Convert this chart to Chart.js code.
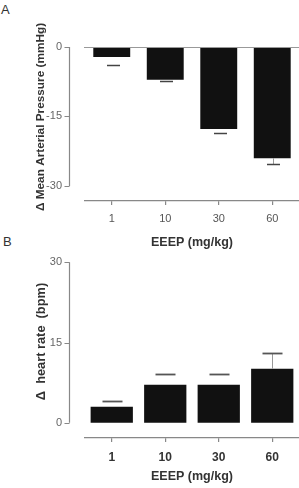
<!DOCTYPE html>
<html>
<head>
<meta charset="utf-8">
<script src="https://cdn.jsdelivr.net/npm/chart.js@4/dist/chart.umd.min.js"></script>
<style>
  html, body { margin: 0; padding: 0; background: #fff; }
  body { width: 299px; height: 488px; position: relative; overflow: hidden; font-family: "Liberation Sans", Arial, sans-serif; }
  .wrap { position: absolute; left: 0; width: 299px; }
  #wa { top: 0; height: 250px; }
  #wb { top: 232px; height: 256px; }
  .lbl { position: absolute; font-size: 13px; color: #333; line-height: 1; }
</style>
</head>
<body>
<div class="lbl" style="left:1px;top:3px;">A</div>
<div class="lbl" style="left:3px;top:235px;">B</div>
<div class="wrap" id="wa"><canvas id="ca" width="299" height="250"></canvas></div>
<div class="wrap" id="wb"><canvas id="cb" width="299" height="256"></canvas></div>
<script>
// ---- data ----
const categories = ['1', '10', '30', '60'];          // EEEP (mg/kg)
const mapMean = [-2.2, -7.1, -17.7, -24.0];          // Δ Mean Arterial Pressure (mmHg)
const mapSem  = [1.6, 0.35, 0.9, 1.2];
const hrMean  = [3.0, 7.1, 7.1, 10.1];               // Δ heart rate (bpm)
const hrSem   = [1.0, 2.0, 2.0, 3.0];
const mapTicks = [0, -15, -30];
const hrTicks  = [0, 15, 30];

const FONT = '"Liberation Sans", Arial, sans-serif';

const extras = {
  id: 'extras',
  afterDatasetsDraw(chart) {
    const o = chart.options.plugins.extras;
    const ctx = chart.ctx;
    const ys = chart.scales.y;
    const ca = chart.chartArea;
    ctx.save();
    if (o.zeroLine) {
      const y0 = Math.round(ys.getPixelForValue(0)) + 0.5;
      ctx.strokeStyle = '#999';
      ctx.lineWidth = 1.2;
      ctx.beginPath();
      ctx.moveTo(ca.left - 1, y0);
      ctx.lineTo(ca.right, y0);
      ctx.stroke();
    }
    const meta = chart.getDatasetMeta(0);
    const ds = chart.data.datasets[0];
    meta.data.forEach((bar, i) => {
      const v = ds.data[i];
      const e = o.errors[i];
      const sgn = v < 0 ? -1 : 1;
      const yb = ys.getPixelForValue(v);
      const ye = Math.round(ys.getPixelForValue(v + sgn * e)) + 0.5;
      const x = Math.round(bar.x + o.capShift) + 0.5;
      if (o.whisker[i]) {
        ctx.strokeStyle = o.whiskerColor;
        ctx.lineWidth = 1;
        ctx.beginPath();
        ctx.moveTo(x, yb);
        ctx.lineTo(x, ye);
        ctx.stroke();
      }
      ctx.strokeStyle = o.capColor;
      ctx.lineWidth = o.capWidth;
      ctx.beginPath();
      ctx.moveTo(x - o.capHalf, ye);
      ctx.lineTo(x + o.capHalf, ye);
      ctx.stroke();
    });
    const ax = ca.left - o.axisGap + 0.5;
    const tv = o.ticks;
    const yTop = ys.getPixelForValue(Math.max(...tv));
    const yBot = ys.getPixelForValue(Math.min(...tv));
    ctx.strokeStyle = '#888';
    ctx.lineWidth = 1.2;
    ctx.beginPath();
    ctx.moveTo(ax, yTop);
    ctx.lineTo(ax, yBot);
    tv.forEach(t => {
      const py = Math.round(ys.getPixelForValue(t)) + 0.5;
      ctx.moveTo(ax - 5, py);
      ctx.lineTo(ax, py);
    });
    ctx.stroke();
    ctx.restore();
  }
};

function makeChart(id, cfg) {
  return new Chart(document.getElementById(id), {
    type: 'bar',
    data: {
      labels: categories,
      datasets: [{
        data: cfg.values,
        backgroundColor: '#111',
        borderWidth: 0,
        barPercentage: cfg.barPct,
        categoryPercentage: 1.0
      }]
    },
    options: {
      responsive: false,
      maintainAspectRatio: false,
      animation: false,
      devicePixelRatio: 1,
      layout: { padding: { top: cfg.padTop, left: 0, right: 0, bottom: 0 } },
      plugins: {
        legend: { display: false },
        tooltip: { enabled: false },
        extras: {
          errors: cfg.errors, ticks: cfg.ticks, zeroLine: cfg.zeroLine,
          capHalf: cfg.capHalf, capShift: cfg.capShift, axisGap: 16,
          capColor: cfg.capColor, capWidth: cfg.capWidth,
          whiskerColor: '#999', whisker: [false, false, false, true]
        }
      },
      scales: {
        x: {
          offset: true,
          border: { display: true, color: '#888', width: 1.2 },
          grid: { display: true, offset: false, drawOnChartArea: false, drawTicks: true, tickLength: 4, color: '#888', lineWidth: 1.2 },
          ticks: { color: cfg.tickColor, font: { family: FONT, size: cfg.xTickSize, weight: cfg.xTickWeight }, padding: cfg.xTickPad, maxRotation: 0 },
          title: { display: true, text: 'EEEP (mg/kg)', color: '#333', font: { family: FONT, size: 12.5, weight: 'bold' }, padding: { top: 0, bottom: cfg.xTitlePad } },
          afterFit: s => { s.height = cfg.xHeight; }
        },
        y: {
          min: cfg.min,
          max: cfg.max,
          border: { display: false },
          grid: { display: false, drawTicks: true, tickLength: 23 },
          afterBuildTicks: s => { s.ticks = cfg.ticks.map(v => ({ value: v })); },
          ticks: { color: '#666', font: { family: FONT, size: 11 }, padding: 0 },
          title: { display: true, text: cfg.yTitle, color: '#333', font: { family: FONT, size: cfg.yTitleSize, weight: 'bold' }, padding: { top: cfg.yTitleOffset, bottom: 0 } },
          afterFit: s => { s.width = 85; }
        }
      }
    },
    plugins: [extras]
  });
}

makeChart('ca', {
  values: mapMean, errors: mapSem, ticks: mapTicks,
  min: -33.24, max: 3.0, padTop: 33, xHeight: 49,
  barPct: 0.69, capHalf: 6.5, capShift: 1, zeroLine: true,
  capColor: '#444', capWidth: 1.5,
  tickColor: '#555', xTickSize: 11, xTickWeight: 'normal', xTickPad: 7, xTitlePad: 0,
  yTitle: 'Δ Mean Arterial Pressure (mmHg)', yTitleSize: 11.8, yTitleOffset: 34
});

makeChart('cb', {
  values: hrMean, errors: hrSem, ticks: hrTicks,
  min: -2.86, max: 33.24, padTop: 13, xHeight: 50,
  barPct: 0.79, capHalf: 10, capShift: 0, zeroLine: false,
  capColor: '#555', capWidth: 1.8,
  tickColor: '#333', xTickSize: 12, xTickWeight: 'bold', xTickPad: 8, xTitlePad: 4,
  yTitle: 'Δ\u00A0 heart rate\u00A0 (bpm)', yTitleSize: 12.8, yTitleOffset: 34
});
</script>
</body>
</html>
